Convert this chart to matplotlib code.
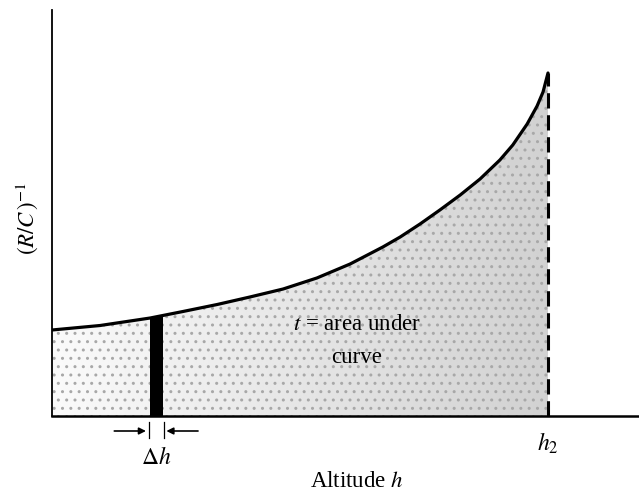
import numpy as np
import matplotlib.pyplot as plt
from matplotlib.patches import Polygon

# curve (h as fraction of h2, arbitrary y units)
h = [0.0, 0.097, 0.198, 0.264, 0.333, 0.399, 0.466, 0.534, 0.601, 0.667, 0.702,
     0.742, 0.782, 0.823, 0.863, 0.903, 0.929, 0.958, 0.978, 0.990, 1.0]
rc_inv = [0.86, 0.905, 0.98, 1.045, 1.115, 1.19, 1.27, 1.38, 1.52, 1.69, 1.79,
          1.92, 2.06, 2.21, 2.37, 2.56, 2.71, 2.92, 3.10, 3.24, 3.43]

# the thin strip of width dh
strip_h = 0.211
strip_w = 0.026
strip_top = 0.99

plt.rcParams['font.family'] = ['Liberation Serif', 'DejaVu Serif']
plt.rcParams['mathtext.fontset'] = 'stix'

fig = plt.figure(figsize=(6.39, 4.98), dpi=100)
ax = fig.add_axes([52/639, 82/498, 587/639, 406/498])
ax.set_xlim(0, 587/496)
ax.set_ylim(0, 4.06)

# stippled area under the curve -> grey gradient clipped to the region
verts = list(zip(h, rc_inv)) + [(1.0, 0), (0, 0)]
poly = Polygon(verts, closed=True, facecolor='none', edgecolor='none')
ax.add_patch(poly)
grad = np.linspace(0.98, 0.82, 256).reshape(1, -1)
im = ax.imshow(grad, extent=[0, 1.0, 0, 3.5], aspect='auto', cmap='gray',
               vmin=0, vmax=1, zorder=1)
im.set_clip_path(poly)
ax.fill_between(h, rc_inv, 0, facecolor='none', edgecolor='#a8a8a8',
                hatch='..', linewidth=0, zorder=1.5)

ax.plot(h, rc_inv, color='black', lw=2.3, zorder=3,
        solid_capstyle='round', solid_joinstyle='round')
ax.plot([1.0, 1.0], [0, rc_inv[-1]], color='black', lw=2.2, ls=(0, (5, 2.2)), zorder=3)
ax.bar(strip_h, strip_top, width=strip_w, color='black', zorder=2)

for s in ['top', 'right']:
    ax.spines[s].set_visible(False)
ax.spines['left'].set_linewidth(1.3)
ax.spines['bottom'].set_linewidth(1.8)
ax.set_xticks([])
ax.set_yticks([])

# dh marker
ya = -0.15
x0 = strip_h - strip_w/2 - 0.003
x1 = strip_h + strip_w/2 + 0.001
for xx in [x0, x1]:
    ax.plot([xx, xx], [-0.06, -0.22], color='black', lw=0.9, clip_on=False)
ax.annotate('', xy=(x0, ya), xytext=(x0 - 0.075, ya),
            arrowprops=dict(arrowstyle='-|>', color='black', lw=1.2, mutation_scale=10),
            annotation_clip=False)
ax.annotate('', xy=(x1, ya), xytext=(x1 + 0.075, ya),
            arrowprops=dict(arrowstyle='-|>', color='black', lw=1.2, mutation_scale=10),
            annotation_clip=False)
ax.text(strip_h, -0.42, r'$\Delta h$', ha='center', va='center', fontsize=17, clip_on=False)
ax.text(1.0, -0.27, r'$h_2$', ha='center', va='center', fontsize=17, clip_on=False)

ax.text(0.615, 0.91, r'$t$ = area under', ha='center', va='center', fontsize=16.5)
ax.text(0.615, 0.59, 'curve', ha='center', va='center', fontsize=16.5)

fig.text(357/639, 1 - 481/498, r'Altitude $h$', ha='center', va='center', fontsize=16.5)
fig.text(27/639, 1 - 218/498, r'$(R/C\,)^{-1}$', ha='center', va='center',
         fontsize=16.5, rotation=90)

fig.savefig('out.png', dpi=100)
